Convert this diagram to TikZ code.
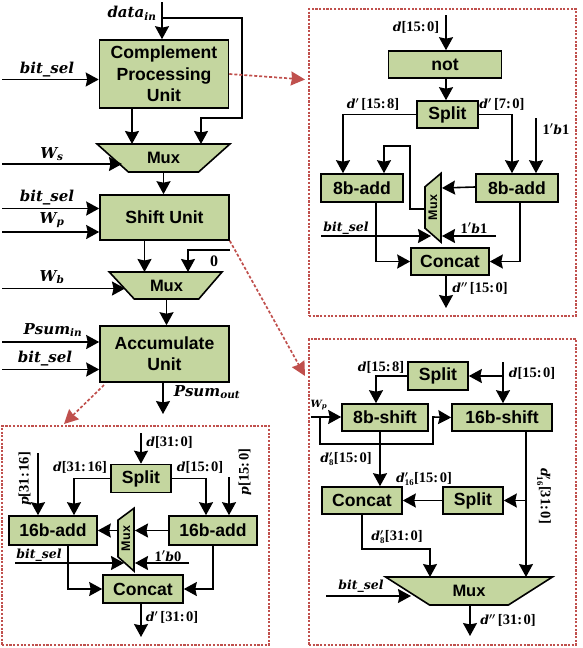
\documentclass[tikz,border=0pt]{standalone}
\usepackage{fix-cm}
\usepackage{fontspec}
\setmainfont{Liberation Sans}
\newfontfamily\lfam{DejaVu Serif}[NFSSFamily=lfam]
\newfontfamily\lsrf{Liberation Serif}[NFSSFamily=lsrf]
\DeclareMathAlphabet{\mlf}{TU}{lfam}{b}{it}
\DeclareMathAlphabet{\mlb}{TU}{lsrf}{b}{n}
\usetikzlibrary{arrows.meta,shapes.geometric,calc}
\definecolor{boxgreen}{HTML}{C4D69F}
\definecolor{dashred}{HTML}{C0504D}
\newcommand{\mainlab}[1]{{\boldmath$#1$}}
\newcommand{\bitsel}{{\lfam\bfseries\itshape bit\_sel}}
\newcommand{\dg}[1]{\hbox{\lsrf\bfseries\fontsize{14.5}{16}\selectfont #1}}
\newcommand{\rng}[2]{\dg{[#1:\kern1.5pt#2]}}
\tikzset{
  blk/.style={draw=black,fill=boxgreen,line width=1.6pt,inner sep=0pt,align=center,
    font=\fontsize{17.6}{21.3}\bfseries\selectfont},
  muxh/.style={draw=black,fill=boxgreen,line width=1.6pt,inner sep=0pt,trapezium,
    trapezium stretches=true,shape border rotate=180,
    font=\fontsize{16.5}{20}\bfseries\selectfont},
  muxv/.style={draw=black,fill=boxgreen,line width=1.6pt,inner sep=0pt,trapezium,
    trapezium stretches=true,rotate=90,minimum width=63pt,minimum height=16pt,
    font=\fontsize{12.5}{14}\bfseries\selectfont},
  arr/.style={line width=1.6pt,-{Stealth[length=13pt,width=14pt,inset=1.5pt]}},
  redarr/.style={draw=dashred,line width=1.7pt,dash pattern=on 3pt off 2pt,
    -{Stealth[length=14pt,width=14pt,inset=1pt]}},
  panel/.style={draw=dashred,line width=1.2pt,dash pattern=on 2.2pt off 1.5pt,inner sep=0pt},
  lbig/.style={inner sep=0pt,font=\fontsize{15}{17}\selectfont},
  lsm/.style={inner sep=0pt,font=\fontsize{12.5}{14}\selectfont},
}
\begin{document}
\begin{tikzpicture}[x=1pt,y=-1pt]
\useasboundingbox (0,0) rectangle (582,648);

% panels
\node[panel,minimum width=267pt,minimum height=219pt] (pa) at (135.5,535.5) {};
\node[panel,minimum width=267pt,minimum height=307pt] (pb) at (442.5,162.5) {};
\node[panel,minimum width=267pt,minimum height=306pt] (pc) at (442.5,492) {};

% main column
\node[blk,minimum width=129pt,minimum height=68pt] (cpu) at (164,74) {Complement\\Processing\\Unit};
\node[muxh,minimum width=133pt,minimum height=28pt,trapezium left angle=38,trapezium right angle=38] (m1) at (163.5,158) {Mux};
\node[blk,minimum width=129pt,minimum height=45pt] (shu) at (164.5,217.5) {Shift Unit};
\node[muxh,minimum width=113pt,minimum height=27pt,trapezium left angle=44,trapezium right angle=42] (m2) at (166.5,285.5) {Mux};
\node[blk,minimum width=129pt,minimum height=56pt] (acc) at (164.5,354) {Accumulate\\Unit};

\coordinate (din) at (162,2);
\coordinate (dbr) at (162,18);
\coordinate (i1) at (2,79.5);
\coordinate (i2) at (2,164);
\coordinate (i3) at (2,208.5);
\coordinate (i4) at (2,232);
\coordinate (i5) at (2,288.5);
\coordinate (i6) at (2,342);
\coordinate (i7) at (2,369.5);
\coordinate (zs) at (230,250);
\coordinate (po) at (163,414);
\coordinate (t2) at (305,79.5);
\coordinate (t3) at (305,376);
\coordinate (t1s) at (104,385);
\coordinate (t1) at (64,424);

\draw[arr] (din) -- ([xshift=-2pt]cpu.north);
\draw[arr] (dbr) -- ++(80,0) -- ++(0,100) -- ++(-41,0) -- ([xshift=37.5pt,yshift=14pt]m1.center);
\draw[arr] (i1) -- (i1 -| cpu.west);
\draw[arr] ([xshift=-32pt]cpu.south) -- ([xshift=-31.5pt,yshift=14pt]m1.center);
\draw[arr] (i2) -- ([xshift=-41.5pt,yshift=-6pt]m1.center);
\draw[arr] ([yshift=-14pt]m1.center) -- ([xshift=-1pt]shu.north);
\draw[arr] (i3) -- (i3 -| shu.west);
\draw[arr] (i4) -- (i4 -| shu.west);
\draw[arr] ([xshift=-20pt]shu.south) -- ([xshift=-22pt,yshift=13.5pt]m2.center);
\draw[arr] (zs) -- ++(-42,0) -- ([xshift=21.5pt,yshift=13.5pt]m2.center);
\draw[arr] (i5) -- ([xshift=-41.5pt,yshift=-3pt]m2.center);
\draw[arr] ([yshift=-13.5pt]m2.center) -- ([xshift=2pt]acc.north);
\draw[arr] (i6) -- (i6 -| acc.west);
\draw[arr] (i7) -- (i7 -| acc.west);
\draw[arr] ([xshift=-1.5pt]acc.south) -- (po);
\draw[redarr] (cpu.east) -- (t2);
\draw[redarr] (shu.south east) -- (t3);
\draw[redarr] (t1s) -- (t1);

\node[lbig] (l1) at (132,13) {\mainlab{\mlf{data}_{\mlf{in}}}};
\node[lbig] (l2) at (47,70) {\bitsel};
\node[lbig] (l3) at (52,154) {\mainlab{\mlf{W}_{\mlf{s}}}};
\node[lbig] (l4) at (47,198) {\bitsel};
\node[lbig] (l5) at (52,220) {\mainlab{\mlf{W}_{\mlf{p}}}};
\node[lbig] (l6) at (214,261) {\hbox{\lsrf\bfseries\fontsize{16}{18}\selectfont 0}};
\node[lbig] (l7) at (52,277) {\mainlab{\mlf{W}_{\mlf{b}}}};
\node[lbig] (l8) at (53,330) {\mainlab{\mlf{Psum}_{\mlf{in}}}};
\node[lbig] (l9) at (45,359) {\bitsel};
\node[lbig] (l10) at (207,392) {\mainlab{\mlf{Psum}_{\mlf{out}}}};

% panel A (bottom left)
\node[blk,minimum width=60pt,minimum height=28pt] (as) at (141,478.5) {Split};
\node[blk,minimum width=88pt,minimum height=29pt] (al) at (53,530.5) {16b-add};
\node[blk,minimum width=88pt,minimum height=29pt] (ar) at (213,530.5) {16b-add};
\node[muxv,trapezium left angle=42,trapezium right angle=47] (am) at (126,538.5) {Mux};
\node[blk,minimum width=80pt,minimum height=28pt] (ac) at (143,589) {Concat};
\coordinate (ad) at (141,433);
\coordinate (ap1) at (38,453);
\coordinate (ap2) at (229,477);
\coordinate (abs) at (15,563);
\coordinate (ab0) at (189,563);
\coordinate (ao) at (141,637);
\draw[arr] (ad) -- (ad |- as.north);
\draw[arr] (as.west) -| ([xshift=21pt]al.north);
\draw[arr] (as.east) -| ([xshift=-7pt]ar.north);
\draw[arr] (ap1) -- (ap1 |- al.north);
\draw[arr] (ap2) -- (ap2 |- ar.north);
\draw[arr] (ar.west) -- ([xshift=9pt,yshift=8pt]am.center);
\draw[arr] ([xshift=-8pt,yshift=8pt]am.center) -- (al.east);
\draw[arr] (abs) -- ([xshift=-2pt,yshift=-24.5pt]am.center);
\draw[arr] (ab0) -- ([xshift=9pt,yshift=-24.5pt]am.center);
\draw[arr] ([xshift=15pt]al.south) |- (ac.west);
\draw[arr] (ar.south) |- (ac.east);
\draw[arr] ([xshift=-2pt]ac.south) -- (ao);
\node[lsm] (a1) at (169.5,442) {\mainlab{\mlf{d}\rng{31}{0}}};
\node[lsm] (a2) at (80,467) {\mainlab{\mlf{d}\rng{31}{16}}};
\node[lsm] (a3) at (200,467) {\mainlab{\mlf{d}\rng{15}{0}}};
\node[lsm,rotate=90] (a4) at (25,479) {\mainlab{\mlf{p}\rng{31}{16}}};
\node[lsm,rotate=90] (a5) at (245,472) {\mainlab{\mlf{p}\rng{15}{0}}};
\node[lsm] (a6) at (39,555.5) {\bitsel};
\node[lsm] (a7) at (168,556) {\mainlab{\dg{1}^{\prime}\mlf{b}\dg{0}}};
\node[lsm] (a8) at (172,617) {\mainlab{\mlf{d}^{\prime}\,\rng{31}{0}}};

% panel B (top right)
\node[blk,minimum width=113pt,minimum height=27pt] (bn) at (445,64.5) {not};
\node[blk,minimum width=61pt,minimum height=27pt] (bs) at (447.5,114.5) {Split};
\node[blk,minimum width=82pt,minimum height=28pt] (bl) at (362,188) {8b-add};
\node[blk,minimum width=82pt,minimum height=28pt] (br) at (517,188) {8b-add};
\node[muxv,minimum width=69pt,trapezium left angle=46,trapezium right angle=47] (bm) at (433,207.5) {Mux};
\node[blk,minimum width=78pt,minimum height=27pt] (bc) at (450,261.5) {Concat};
\coordinate (bd) at (446,15);
\coordinate (bp) at (536,118);
\coordinate (bbs) at (321,236);
\coordinate (bb1) at (496,236);
\coordinate (bo) at (446,308);
\draw[arr] (bd) -- (bd |- bn.north);
\draw[arr] ([xshift=1pt]bn.south) -- ([xshift=-1.5pt]bs.north);
\draw[arr] (bs.west) -| ([xshift=-19pt]bl.north);
\draw[arr] (bs.east) -| ([xshift=-5pt]br.north);
\draw[arr] (bp) -- (bp |- br.north);
\draw[arr] ([yshift=1pt]br.west) -- ([xshift=9pt,yshift=19.5pt]bm.center);
\draw[arr] ([xshift=-8pt,yshift=-1.5pt]bm.center) -- ++(-15,0) -- ++(0,-63) -- ++(-26,0) -- ([xshift=22pt]bl.north);
\draw[arr] (bbs) -- ([xshift=-2pt,yshift=-28.5pt]bm.center);
\draw[arr] (bb1) -- ([xshift=9pt,yshift=-28.5pt]bm.center);
\draw[arr] ([xshift=14pt]bl.south) |- (bc.west);
\draw[arr] ([xshift=3pt]br.south) |- (bc.east);
\draw[arr] ([xshift=-4pt]bc.south) -- (bo);
\node[lsm] (b1) at (416,27) {\mainlab{\mlf{d}\rng{15}{0}}};
\node[lsm] (b2) at (373,104) {\mainlab{\mlf{d}^{\prime}\,\rng{15}{8}}};
\node[lsm] (b3) at (502,104) {\mainlab{\mlf{d}^{\prime}\,\rng{7}{0}}};
\node[lsm] (b4) at (556,129) {\mainlab{\dg{1}^{\prime}\mlf{b}\dg{1}}};
\node[lsm] (b5) at (346,228) {\bitsel};
\node[lsm] (b6) at (474,228) {\mainlab{\dg{1}^{\prime}\mlf{b}\dg{1}}};
\node[lsm] (b7) at (480,288) {\mainlab{\mlf{d}^{\prime\prime}\,\rng{15}{0}}};

% panel C (bottom right)
\node[blk,minimum width=60pt,minimum height=28pt] (cs) at (438,376) {Split};
\node[blk,minimum width=86pt,minimum height=27pt] (c8) at (385,417.5) {8b-shift};
\node[blk,minimum width=100pt,minimum height=27pt] (c16) at (502,417.5) {16b-shift};
\node[blk,minimum width=80pt,minimum height=27pt] (cc) at (362,500.5) {Concat};
\node[blk,minimum width=60pt,minimum height=27pt] (cp) at (473,500.5) {Split};
\node[muxh,minimum width=167pt,minimum height=28pt,trapezium left angle=32,trapezium right angle=32] (cm) at (469,591) {Mux};
\coordinate (cd) at (503,362);
\coordinate (cbr) at (503,376);
\coordinate (cw) at (311,417);
\coordinate (cwb) at (320,417);
\coordinate (cbs) at (326,596);
\coordinate (co) at (470,636);
\draw[arr] (cd) -- (cd |- c16.north);
\draw[arr] (cbr) -- (cs.east);
\draw[arr] (cs.west) -| ([xshift=-9pt]c8.north);
\draw[arr] (cw) -- (cw -| c8.west);
\draw[arr] (cwb) -- ++(0,27) -- ++(113,0) -- ++(0,-27) -- (c16.west);
\draw[arr] ([xshift=-5pt]c8.south) -- ([xshift=18pt]cc.north);
\draw[arr] ([xshift=24pt]c16.south) -- ([xshift=57pt,yshift=14pt]cm.center);
\draw[arr] ([xshift=53pt]cp.center) -- (cp.east);
\draw[arr] (cp.west) -- (cc.east);
\draw[arr] (cc.south) -- ++(0,34) -- ++(68,0) -- ([xshift=-39pt,yshift=14pt]cm.center);
\draw[arr] (cbs) -- ([xshift=-58pt,yshift=-5pt]cm.center);
\draw[arr] ([xshift=1pt,yshift=-14pt]cm.center) -- (co);
\node[lsm] (c1) at (532,373) {\mainlab{\mlf{d}\rng{15}{0}}};
\node[lsm] (c2) at (381,367) {\mainlab{\mlf{d}\rng{15}{8}}};
\node[inner sep=0pt,font=\fontsize{10}{12}\selectfont] (c3) at (319,405) {\mainlab{\mlf{W}_{\mlf{p}}}};
\node[lsm] (c4) at (346,459) {\mainlab{\mlf{d}^{\prime}_{\mlb{8}}\rng{15}{0}}};
\node[lsm] (c5) at (424,479) {\mainlab{\mlf{d}^{\prime}_{\mlb{16}}\rng{15}{0}}};
\node[lsm,rotate=-90] (c6) at (544,496) {\mainlab{\mlf{d}^{\prime}_{\mlb{16}}\rng{31}{0}}};
\node[lsm] (c7) at (397,537) {\mainlab{\mlf{d}^{\prime}_{\mlb{8}}\rng{31}{0}}};
\node[lsm] (c8l) at (361,586) {\bitsel};
\node[lsm] (c9) at (508,620) {\mainlab{\mlf{d}^{\prime\prime}\,\rng{31}{0}}};
\end{tikzpicture}
\end{document}
